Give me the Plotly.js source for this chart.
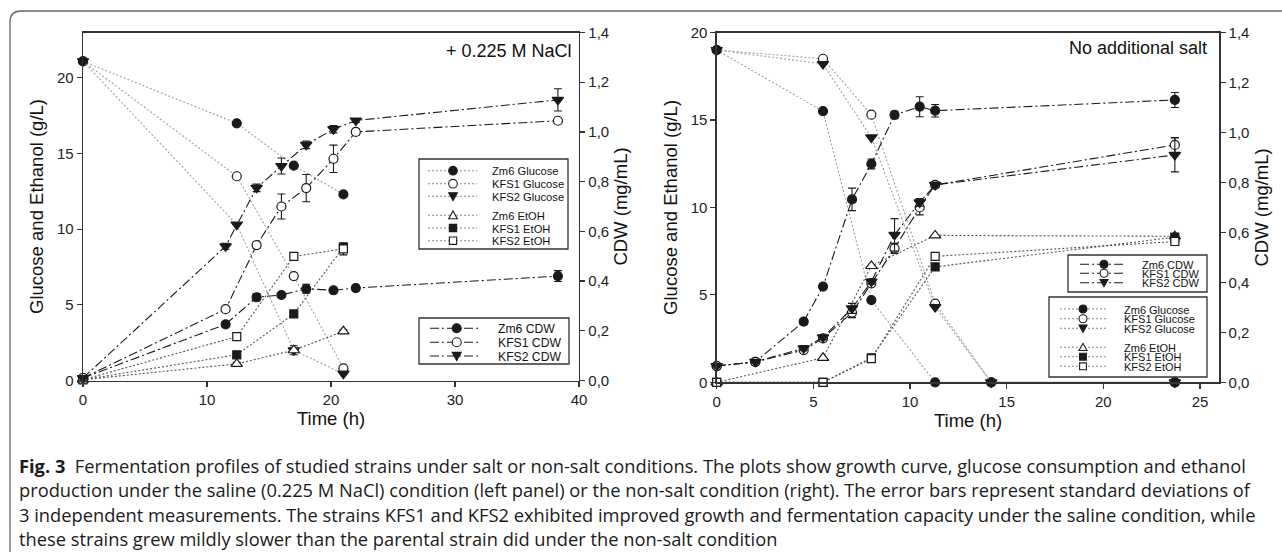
<!DOCTYPE html>
<html><head><meta charset="utf-8">
<script src="https://cdn.plot.ly/plotly-3.0.1.min.js"></script>
<style>html,body{margin:0;padding:0;background:#fff}#chart{width:1282px;height:552px}</style>
</head><body><div id="chart"></div>
<script>
// ---------------- DATA: left panel (+0.225 M NaCl) ----------------
const saltTimeGlcEtoh = [0, 12.4, 17, 21];
const saltGlcZm6  = [21.1, 17.0, 14.2, 12.3];
const saltGlcKFS1 = [21.1, 13.5, 6.9, 0.8];
const saltGlcKFS2 = [21.1, 10.3, 2.0, 0.45];
const saltEtohZm6  = [0.05, 1.1, 2.0, 3.25];
const saltEtohZm6Err = [0, 0.1, 0.3, 0.1];
const saltEtohKFS1 = [0.05, 1.7, 4.4, 8.8];
const saltEtohKFS2 = [0.05, 2.9, 8.2, 8.7];
const saltEtohKFS2Err = [0, 0.1, 0.1, 0.4];

const saltTimeCdw = [0, 11.5, 14, 16, 18, 20.2, 22, 38.3];
const saltCdwZm6  = [0.01, 0.226, 0.335, 0.344, 0.369, 0.363, 0.372, 0.42];
const saltCdwZm6Err  = [0, 0.008, 0.015, 0.008, 0.018, 0.008, 0.008, 0.022];
const saltCdwKFS1 = [0.01, 0.287, 0.545, 0.70, 0.774, 0.892, 1.0, 1.045];
const saltCdwKFS1Err = [0, 0.01, 0.012, 0.05, 0.055, 0.055, 0.012, 0.012];
const saltCdwKFS2 = [0.01, 0.54, 0.775, 0.863, 0.948, 1.011, 1.046, 1.129];
const saltCdwKFS2Err = [0, 0.012, 0.015, 0.032, 0.015, 0.015, 0.008, 0.045];

// ---------------- DATA: right panel (no additional salt) ----------------
const ctrlTimeGlc = [0, 5.5, 8, 11.3, 14.2, 23.7];
const ctrlGlcZm6  = [19.0, 15.5, 4.7, 0, 0, 0];
const ctrlGlcKFS1 = [19.0, 18.5, 15.3, 4.5, 0, 0];
const ctrlGlcKFS2 = [19.0, 18.2, 14.0, 4.3, 0, 0];
const ctrlTimeEtoh = [0, 5.5, 8, 11.3, 23.7];
const ctrlEtohZm6  = [0, 1.4, 6.65, 8.4, 8.35];
const ctrlEtohKFS1 = [0, 0, 1.4, 6.6, 8.3];
const ctrlEtohKFS2 = [0, 0, 1.35, 7.2, 8.05];

const ctrlTimeCdw = [0, 2, 4.5, 5.5, 7, 8, 9.2, 10.5, 11.3, 23.7];
const ctrlCdwZm6  = [0.065, 0.082, 0.243, 0.383, 0.732, 0.874, 1.07, 1.103, 1.087, 1.13];
const ctrlCdwZm6Err  = [0.005, 0.01, 0.01, 0.01, 0.045, 0.02, 0.015, 0.04, 0.025, 0.03];
const ctrlCdwKFS1 = [0.065, 0.082, 0.129, 0.176, 0.279, 0.396, 0.536, 0.70, 0.79, 0.95];
const ctrlCdwKFS1Err = [0, 0.005, 0.01, 0.01, 0.02, 0.01, 0.02, 0.03, 0.01, 0.03];
const ctrlCdwKFS2 = [0.065, 0.082, 0.136, 0.18, 0.296, 0.403, 0.59, 0.72, 0.79, 0.91];
const ctrlCdwKFS2Err = [0, 0.005, 0.01, 0.01, 0.02, 0.01, 0.065, 0.015, 0.01, 0.068];

const seriesNames = ['Zm6 Glucose','KFS1 Glucose','KFS2 Glucose','Zm6 EtOH','KFS1 EtOH','KFS2 EtOH'];
const cdwNames = ['Zm6 CDW','KFS1 CDW','KFS2 CDW'];
const leftTickVals = [0,5,10,15,20];
const saltTimeTicks = [0,10,20,30,40];
const ctrlTimeTicks = [0,5,10,15,20,25];
const cdwTicks = [0,0.2,0.4,0.6,0.8,1.0,1.2,1.4];
const captionLines = [
 '<b>Fig. 3</b>  Fermentation profiles of studied strains under salt or non-salt conditions. The plots show growth curve, glucose consumption and ethanol',
 'production under the saline (0.225 M NaCl) condition (left panel) or the non-salt condition (right). The error bars represent standard deviations of',
 '3 independent measurements. The strains KFS1 and KFS2 exhibited improved growth and fermentation capacity under the saline condition, while',
 'these strains grew mildly slower than the parental strain did under the non-salt condition'
];

// ---------------- STYLE ----------------
const W = 1282, H = 552;
const px = x => x / W, py = y => 1 - y / H;
const INK = '#1a1a1a';
const GLC_LINE = '#a0a0a0', ETOH_LINE = '#555';
const DOT = '2px,2px', DASHDOT = '9px,3px,2px,3px';
const SYM = { // symbol, filled
  zm6g:['circle',true], kfs1g:['circle',false], kfs2g:['triangle-down',true],
  zm6e:['triangle-up',false], kfs1e:['square',true], kfs2e:['square',false]
};

function trace(name, x, y, xa, ya, sym, lineColor, dash, err, size) {
  const t = {
    type:'scatter', mode:'lines+markers', name, x, y, xaxis:xa, yaxis:ya,
    cliponaxis:false, showlegend:false,
    line:{color:lineColor, width:1.1, dash},
    marker:{symbol:sym[0], size:size||9, color: sym[1]?INK:'#fff', line:{color:INK, width:1.2}}
  };
  if (err) t.error_y = {type:'data', array:err, visible:true, color:INK, thickness:1.1, width:4};
  return t;
}

const data = [
  // left glucose
  trace(seriesNames[1], saltTimeGlcEtoh, saltGlcKFS1, 'x','y', SYM.kfs1g, GLC_LINE, DOT),
  trace(seriesNames[0], saltTimeGlcEtoh, saltGlcZm6, 'x','y', SYM.zm6g, GLC_LINE, DOT),
  trace(seriesNames[2], saltTimeGlcEtoh, saltGlcKFS2, 'x','y', SYM.kfs2g, GLC_LINE, DOT, null, 10),
  trace(seriesNames[3], saltTimeGlcEtoh, saltEtohZm6, 'x','y', SYM.zm6e, ETOH_LINE, DOT, saltEtohZm6Err, 10),
  trace(seriesNames[4], saltTimeGlcEtoh, saltEtohKFS1, 'x','y', SYM.kfs1e, ETOH_LINE, DOT, null, 8),
  trace(seriesNames[5], saltTimeGlcEtoh, saltEtohKFS2, 'x','y', SYM.kfs2e, ETOH_LINE, DOT, saltEtohKFS2Err, 8),
  // left CDW
  trace(cdwNames[0], saltTimeCdw, saltCdwZm6, 'x','y2', SYM.zm6g, INK, DASHDOT, saltCdwZm6Err),
  trace(cdwNames[1], saltTimeCdw, saltCdwKFS1, 'x','y2', SYM.kfs1g, INK, DASHDOT, saltCdwKFS1Err),
  trace(cdwNames[2], saltTimeCdw, saltCdwKFS2, 'x','y2', SYM.kfs2g, INK, DASHDOT, saltCdwKFS2Err, 10),
  // right glucose / EtOH
  trace(seriesNames[1], ctrlTimeGlc, ctrlGlcKFS1, 'x2','y3', SYM.kfs1g, GLC_LINE, DOT),
  trace(seriesNames[0], ctrlTimeGlc, ctrlGlcZm6, 'x2','y3', SYM.zm6g, GLC_LINE, DOT),
  trace(seriesNames[2], ctrlTimeGlc, ctrlGlcKFS2, 'x2','y3', SYM.kfs2g, GLC_LINE, DOT, null, 10),
  trace(seriesNames[3], ctrlTimeEtoh, ctrlEtohZm6, 'x2','y3', SYM.zm6e, ETOH_LINE, DOT, null, 10),
  trace(seriesNames[4], ctrlTimeEtoh, ctrlEtohKFS1, 'x2','y3', SYM.kfs1e, ETOH_LINE, DOT, null, 8),
  trace(seriesNames[5], ctrlTimeEtoh, ctrlEtohKFS2, 'x2','y3', SYM.kfs2e, ETOH_LINE, DOT, null, 8),
  // right CDW
  trace(cdwNames[0], ctrlTimeCdw, ctrlCdwZm6, 'x2','y4', SYM.zm6g, INK, DASHDOT, ctrlCdwZm6Err),
  trace(cdwNames[1], ctrlTimeCdw, ctrlCdwKFS1, 'x2','y4', SYM.kfs1g, INK, DASHDOT, ctrlCdwKFS1Err),
  trace(cdwNames[2], ctrlTimeCdw, ctrlCdwKFS2, 'x2','y4', SYM.kfs2g, INK, DASHDOT, ctrlCdwKFS2Err, 10)
];

// ---------------- AXES ----------------
const FONT = 'Liberation Sans, Arial, sans-serif';
const tickFont = {family:FONT, size:15, color:'#222'};
const titleFont = {family:FONT, size:18.5, color:'#111'};
const axBase = {showline:true, linecolor:'#333', linewidth:1.3, ticks:'outside', ticklen:5,
  tickcolor:'#333', tickwidth:1.2, showgrid:false, zeroline:false, tickfont:tickFont, fixedrange:true};
const yDomL = [py(380.5), py(32.5)], yDomR = [py(382.3), py(32.5)];

const layout = {
  width:W, height:H, margin:{l:0,r:0,t:0,b:0}, paper_bgcolor:'#fff', plot_bgcolor:'rgba(0,0,0,0)',
  showlegend:false, separators:', ', font:{family:FONT, color:'#222'},
  xaxis: Object.assign({}, axBase, {domain:[px(83), px(579)], range:[0,40], anchor:'y', tickvals:saltTimeTicks,
    mirror:true, title:{text:'Time (h)', font:titleFont, standoff:5}}),
  yaxis: Object.assign({}, axBase, {domain:yDomL, range:[0,23], anchor:'x', tickvals:leftTickVals,
    title:{text:'Glucose and Ethanol (g/L)', font:titleFont, standoff:8}}),
  yaxis2: Object.assign({}, axBase, {domain:yDomL, range:[0,1.4], overlaying:'y', side:'right', anchor:'x',
    tickvals:cdwTicks, tickformat:'.1f', title:{text:'CDW (mg/mL)', font:titleFont, standoff:6}}),
  xaxis2: Object.assign({}, axBase, {domain:[px(716.7), px(1219.3)], range:[0,26], anchor:'y3', tickvals:ctrlTimeTicks,
    mirror:true, title:{text:'Time (h)', font:titleFont, standoff:5}}),
  yaxis3: Object.assign({}, axBase, {domain:yDomR, range:[0,20], anchor:'x2', tickvals:leftTickVals,
    title:{text:'Glucose and Ethanol (g/L)', font:titleFont, standoff:8}}),
  yaxis4: Object.assign({}, axBase, {domain:yDomR, range:[0,1.4], overlaying:'y3', side:'right', anchor:'x2',
    tickvals:cdwTicks, tickformat:'.1f', title:{text:'CDW (mg/mL)', font:titleFont, standoff:6}}),
  shapes:[], annotations:[]
};

// outer frame (rounded top-left corner)
layout.shapes.push({type:'path', xref:'paper', yref:'paper', layer:'below',
  path:`M${px(10)},${py(560)} L${px(10)},${py(22)} Q${px(10)},${py(11)} ${px(21)},${py(11)} L${px(1290)},${py(11)}`,
  line:{color:'#666', width:1.3}});

// panel labels
layout.annotations.push({xref:'paper', yref:'paper', x:px(574), y:py(51), xanchor:'right', yanchor:'middle',
  text:'+ 0.225 M NaCl', showarrow:false, font:{family:FONT, size:18, color:'#111'}});
layout.annotations.push({xref:'paper', yref:'paper', x:px(1209), y:py(48), xanchor:'right', yanchor:'middle',
  text:'No additional salt', showarrow:false, font:{family:FONT, size:18, color:'#111'}});

// caption
const capY = [465, 489.5, 514, 538];
captionLines.forEach((t,i) => layout.annotations.push({xref:'paper', yref:'paper', x:px(17), y:py(capY[i]),
  xanchor:'left', yanchor:'middle', text:t, showarrow:false, font:{family:'Open Sans, sans-serif', size:18.3, color:'#1a1a1a'}}));

// ---------------- custom legends ----------------
function markerShape(cx, cy, r, sym) {
  const fill = sym[1] ? INK : '#fff';
  const base = {xref:'paper', yref:'paper', layer:'above', fillcolor:fill, line:{color:INK, width:1.1}};
  if (sym[0]==='circle') return Object.assign(base, {type:'circle', x0:px(cx-r), x1:px(cx+r), y0:py(cy+r), y1:py(cy-r)});
  if (sym[0]==='square') { const s=r*0.85; return Object.assign(base, {type:'rect', x0:px(cx-s), x1:px(cx+s), y0:py(cy+s), y1:py(cy-s)}); }
  if (sym[0]==='triangle-down') return Object.assign(base, {type:'path',
    path:`M${px(cx-r)},${py(cy-r*0.8)} L${px(cx+r)},${py(cy-r*0.8)} L${px(cx)},${py(cy+r)} Z`});
  return Object.assign(base, {type:'path',
    path:`M${px(cx-r)},${py(cy+r*0.8)} L${px(cx+r)},${py(cy+r*0.8)} L${px(cx)},${py(cy-r)} Z`});
}
function legend(box, rowsY, names, syms, lineX, markX, textX, dash, lineColor, fontSize, r) {
  layout.shapes.push({type:'rect', xref:'paper', yref:'paper', layer:'above', x0:px(box[0]), x1:px(box[1]),
    y0:py(box[3]), y1:py(box[2]), fillcolor:'#fff', line:{color:'#333', width:1.3}});
  rowsY.forEach((y,i) => {
    layout.shapes.push({type:'line', xref:'paper', yref:'paper', layer:'above', x0:px(lineX[0]), x1:px(lineX[1]),
      y0:py(y), y1:py(y), line:{color:lineColor, width:1.1, dash}});
    layout.shapes.push(markerShape(markX, y, r, syms[i]));
    layout.annotations.push({xref:'paper', yref:'paper', x:px(textX), y:py(y+0.5), xanchor:'left', yanchor:'middle',
      text:names[i], showarrow:false, font:{family:FONT, size:fontSize, color:'#111'}});
  });
}
const gSyms = [SYM.zm6g, SYM.kfs1g, SYM.kfs2g, SYM.zm6e, SYM.kfs1e, SYM.kfs2e];
const cSyms = [SYM.zm6g, SYM.kfs1g, SYM.kfs2g];
legend([419,568,159,249], [170.7,183.7,196.3,215.3,228,240.7], seriesNames, gSyms, [428,477], 453, 490, DOT, '#888', 11.2, 4.3);
legend([419,569,318,364], [328.3,342.3,356], cdwNames, cSyms, [430,481], 456.7, 496, DASHDOT, INK, 12.2, 4.5);
legend([1068,1207,255,292], [264.3,273.3,282.7], cdwNames, cSyms, [1080,1124], 1104, 1140, DASHDOT, INK, 11, 4);
legend([1049,1207,297,377], [309,318.7,328.3,347.3,356.7,366.3], seriesNames, gSyms, [1060,1108], 1083, 1122, DOT, '#888', 11, 4);

Plotly.newPlot('chart', data, layout, {staticPlot:true, displayModeBar:false});
</script></body></html>
